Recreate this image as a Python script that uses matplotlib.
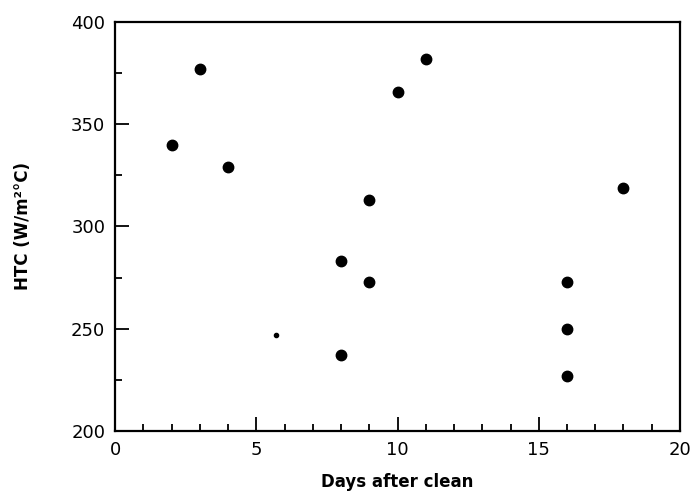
import numpy as np
import matplotlib
matplotlib.use("Agg")
import matplotlib.pyplot as plt
from matplotlib.ticker import MultipleLocator

# Datos
days = [2, 3, 4, 8, 8, 9, 9, 10, 11, 16, 16, 16, 18]
htc = [340, 377, 329, 237, 283, 313, 273, 366, 382, 273, 250, 227, 319]
# punto pequeno (marca menor)
days_small = [5.7]
htc_small = [247]

fig = plt.figure(figsize=(6.9, 4.93), dpi=100)
ax = fig.add_axes([0.1667, 0.1258, 0.8188, 0.8296])

ax.plot(days, htc, 'o', color='black', markersize=7.5, linestyle='none')
ax.plot(days_small, htc_small, 'o', color='black', markersize=3, linestyle='none')

ax.set_xlim(0, 20)
ax.set_ylim(200, 400)
ax.xaxis.set_major_locator(MultipleLocator(5))
ax.xaxis.set_minor_locator(MultipleLocator(1))
ax.yaxis.set_major_locator(MultipleLocator(50))
ax.yaxis.set_minor_locator(MultipleLocator(25))

ax.tick_params(which='both', direction='in', top=False, right=False, width=1.3)
ax.tick_params(which='major', length=10, labelsize=13, pad=7)
ax.tick_params(which='minor', length=5)
for s in ax.spines.values():
    s.set_linewidth(1.6)

ax.set_xlabel('Days after clean', fontsize=12, fontweight='bold', labelpad=10)
ax.set_ylabel('HTC (W/m²°C)', fontsize=12, fontweight='bold', labelpad=28)

fig.savefig('out.png', dpi=100)
